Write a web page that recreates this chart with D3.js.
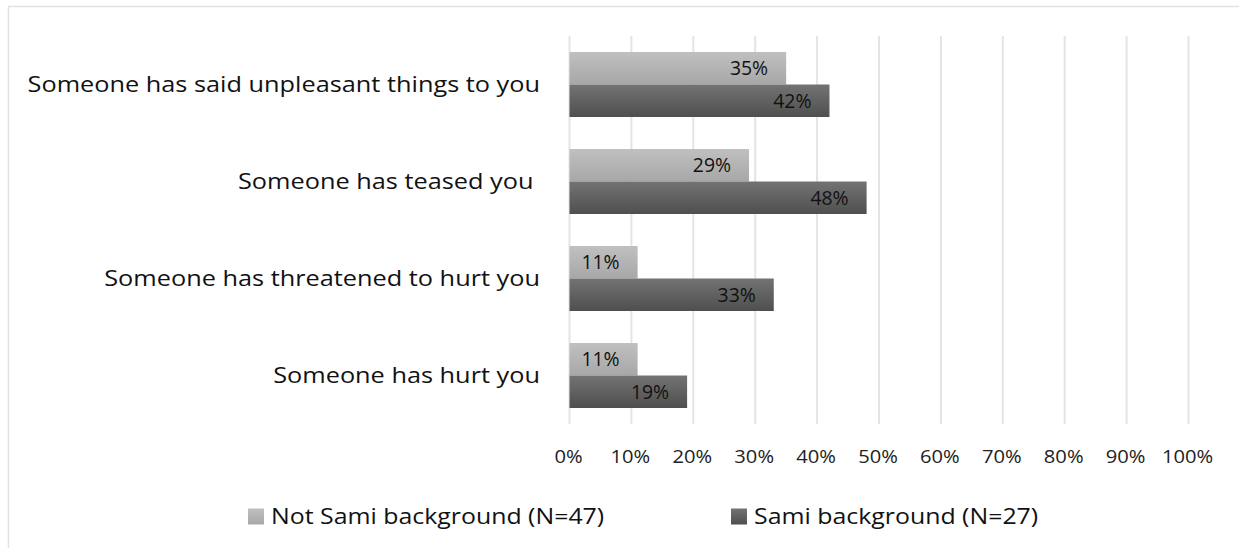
<!DOCTYPE html>
<html><head><meta charset="utf-8">
<script src="https://cdn.jsdelivr.net/npm/d3@7"></script>
<style>body{margin:0;background:#fff}svg{display:block}</style>
</head><body>
<script>
const categories = ["Someone has said unpleasant things to you","Someone has teased you ","Someone has threatened to hurt you","Someone has hurt you"];
const seriesNames = ["Not Sami background (N=47)","Sami background (N=27)"];
const notSami = [35,29,11,11];
const sami = [42,48,33,19];
const ticks = [0,10,20,30,40,50,60,70,80,90,100];

const W=1239,H=548;
const font="'Open Sans', sans-serif";
const svg=d3.select("body").append("svg").attr("width",W).attr("height",H);
const defs=svg.append("defs");
const grads=[["gL","#c0c0c0","#a7a7a7"],["gD","#737373","#4f4f4f"]];
grads.forEach(([id,a,b])=>{const g=defs.append("linearGradient").attr("id",id).attr("x1",0).attr("y1",0).attr("x2",0).attr("y2",1);
 g.append("stop").attr("offset","0%").attr("stop-color",a);g.append("stop").attr("offset","100%").attr("stop-color",b);});

// chart border
svg.append("path").attr("d","M8.5,"+H+"V6.5H"+W).attr("fill","none").attr("stroke","#dfe3e8").attr("stroke-width",1.5);

const x=d3.scaleLinear().domain([0,100]).range([569.5,1188.5]);
const y=d3.scaleBand().domain(categories).range([36,424]).paddingInner(0.33).paddingOuter(0.165);
const sub=d3.scaleBand().domain([0,1]).range([0,y.bandwidth()]);

function txt(sel,fx,fy,size,sx,anchor){
  return sel.attr("transform",(d,i)=>`translate(${fx(d,i)},${fy(d,i)}) scale(${sx},1)`)
   .attr("dy","0.35em").attr("text-anchor",anchor)
   .attr("font-family",font).attr("font-size",size).attr("fill","#111");
}

// gridlines
svg.append("g").selectAll("line").data(ticks).join("line")
 .attr("x1",d=>x(d)).attr("x2",d=>x(d)).attr("y1",36).attr("y2",424)
 .attr("stroke","#e1e4e9").attr("stroke-width",2);

const series=[notSami,sami];
series.forEach((vals,si)=>{
 const g=svg.append("g");
 g.selectAll("rect").data(vals).join("rect")
  .attr("x",x(0)).attr("y",(d,i)=>y(categories[i])+sub(si))
  .attr("width",d=>x(d)-x(0)).attr("height",sub.bandwidth())
  .attr("fill",si?"url(#gD)":"url(#gL)");
 txt(g.selectAll("text").data(vals).join("text"),
   d=>x(d)-18,(d,i)=>y(categories[i])+sub(si)+sub.bandwidth()/2,20,0.97,"end")
  .text(d=>d+"%");
});

// category labels
txt(svg.append("g").selectAll("text").data(categories).join("text"),
  ()=>540,d=>y(d)+y.bandwidth()/2,21,1.205,"end")
 .attr("xml:space","preserve").style("white-space","pre")
 .text(d=>d);

// x tick labels
txt(svg.append("g").selectAll("text").data(ticks).join("text"),
  d=>x(d)-1,()=>456.5,18,1.12,"middle")
 .attr("fill","#222").text(d=>d+"%");

// legend
const lx=[248,731];
const lg=svg.append("g").selectAll("g").data(seriesNames).join("g");
lg.append("rect").attr("x",(d,i)=>lx[i]).attr("y",508.5).attr("width",16).attr("height",16)
 .attr("fill",(d,i)=>i?"url(#gD)":"url(#gL)");
txt(lg.append("text"),(d,i)=>lx[i]+23,()=>516.5,21,1.185,"start").text(d=>d);
</script>
</body></html>
